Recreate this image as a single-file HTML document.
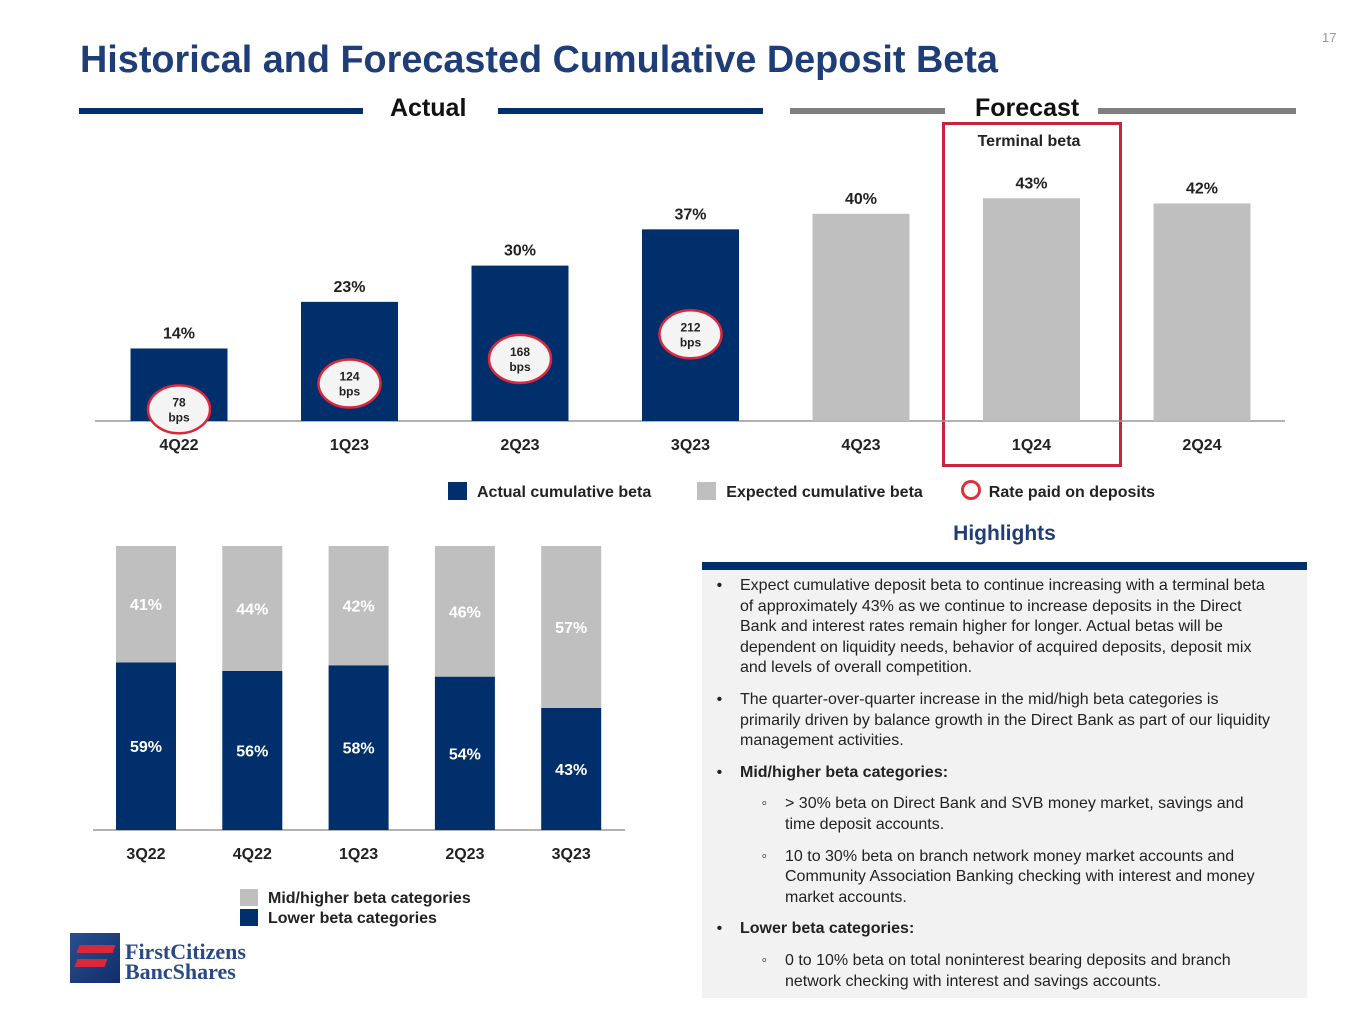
<!DOCTYPE html>
<html><head><meta charset="utf-8"><style>
body{margin:0;width:1365px;height:1024px;background:#fff;font-family:"Liberation Sans",Arial,sans-serif;position:relative;overflow:hidden}
.a{position:absolute}
.hl{font-size:16px;color:#222;line-height:20.6px}
.hl li{margin-bottom:11px}
</style></head><body>
<div class="a" style="left:1322px;top:30px;font-size:13px;color:#999">17</div>
<div class="a" style="left:80px;top:39px;font-size:37.8px;font-weight:bold;color:#1f3e78;white-space:nowrap">Historical and Forecasted Cumulative Deposit Beta</div>
<div class="a" style="left:79px;top:108px;width:284px;height:6px;background:#002f6c"></div>
<div class="a" style="left:390px;top:94px;font-size:25px;font-weight:bold;color:#111">Actual</div>
<div class="a" style="left:498px;top:108px;width:265px;height:6px;background:#002f6c"></div>
<div class="a" style="left:790px;top:108px;width:155px;height:6px;background:#7f7f7f"></div>
<div class="a" style="left:975px;top:94px;font-size:25px;font-weight:bold;color:#111">Forecast</div>
<div class="a" style="left:1098px;top:108px;width:198px;height:6px;background:#7f7f7f"></div>
<div class="a" style="left:942px;top:122px;width:174px;height:339px;border:3px solid #c8243a"></div>
<div class="a" style="left:942px;top:133px;width:174px;text-align:center;font-size:16px;font-weight:bold;color:#222">Terminal beta</div>
<svg class="a" id="topc" style="left:0;top:0" width="1365" height="520"></svg>
<div class="a" style="left:448px;top:480px;font-size:16px;font-weight:bold;color:#222;white-space:nowrap">
<span style="display:inline-block;width:19px;height:18px;background:#002f6c;vertical-align:-3px"></span><span style="margin:0 46px 0 10px">Actual cumulative beta</span><span style="display:inline-block;width:19px;height:18px;background:#bfbfbf;vertical-align:-3px"></span><span style="margin:0 38px 0 10px">Expected cumulative beta</span><span style="display:inline-block;width:14px;height:14px;border:3px solid #e0313b;border-radius:50%;vertical-align:-3px"></span><span style="margin-left:8px">Rate paid on deposits</span></div>
<svg class="a" id="botc" style="left:0;top:520px" width="700" height="350"></svg>
<div class="a" style="left:240px;top:889px;font-size:16px;font-weight:bold;color:#222;line-height:20px">
<div><span style="display:inline-block;width:18px;height:17px;background:#bfbfbf;vertical-align:-3px;margin-right:10px"></span>Mid/higher beta categories</div>
<div><span style="display:inline-block;width:18px;height:17px;background:#002f6c;vertical-align:-3px;margin-right:10px"></span>Lower beta categories</div></div>
<div class="a" style="left:70px;top:933px;width:50px;height:50px;background:linear-gradient(135deg,#2a4f8f,#0f2e6b)"><div style="position:absolute;left:8px;top:12px;width:36px;height:8px;background:#d9283a;transform:skewX(-20deg)"></div><div style="position:absolute;left:6px;top:26px;width:30px;height:8px;background:#d9283a;transform:skewX(-20deg)"></div></div>
<div class="a" style="left:125px;top:942px;font-family:'Liberation Serif',serif;font-size:22px;line-height:20px;color:#2a4a86;font-weight:bold">FirstCitizens<br>BancShares</div>
<div class="a" style="left:702px;top:522px;width:605px;text-align:center;font-size:21px;font-weight:bold;color:#1f3e78">Highlights</div>
<div class="a" style="left:702px;top:562px;width:605px;height:8px;background:#002f6c"></div>
<div class="a" style="left:702px;top:570px;width:605px;height:428px;background:#f2f2f2"></div>
<div class="a hl" style="left:715px;top:576px;width:557px">
<ul style="margin:0;padding-left:25px;list-style:'•    '">
<li>Expect cumulative deposit beta to continue increasing with a terminal beta of approximately 43% as we continue to increase deposits in the Direct Bank and interest rates remain higher for longer. Actual betas will be dependent on liquidity needs, behavior of acquired deposits, deposit mix and levels of overall competition.</li>
<li>The quarter-over-quarter increase in the mid/high beta categories is primarily driven by balance growth in the Direct Bank as part of our liquidity management activities.</li>
<li><b>Mid/higher beta categories:</b>
<ul style="padding-left:45px;list-style:'◦    ';margin-top:11px"><li>&gt; 30% beta on Direct Bank and SVB money market, savings and time deposit accounts.</li><li>10 to 30% beta on branch network money market accounts and Community Association Banking checking with interest and money market accounts.</li></ul></li>
<li><b>Lower beta categories:</b>
<ul style="padding-left:45px;list-style:'◦    ';margin-top:11px"><li>0 to 10% beta on total noninterest bearing deposits and branch network checking with interest and savings accounts.</li></ul></li>
</ul></div>
<script>
const topCats=['4Q22','1Q23','2Q23','3Q23','4Q23','1Q24','2Q24'];
const topVals=[14,23,30,37,40,43,42];
const topActual=[true,true,true,true,false,false,false];
const bpsVals=[78,124,168,212];
const botCats=['3Q22','4Q22','1Q23','2Q23','3Q23'];
const lowerVals=[59,56,58,54,43];
const upperVals=[41,44,42,46,57];
const NS='http://www.w3.org/2000/svg';
function mk(p,t,a){const e=document.createElementNS(NS,t);for(const k in a)e.setAttribute(k,a[k]);p.appendChild(e);return e;}
const topSvg=document.getElementById('topc');
const tx=i=>179+i*170.5, ty=v=>421-v*5.18, by=b=>453-b*0.56;
let ax=mk(topSvg,'line',{x1:95,x2:1285,y1:421,y2:421,stroke:'#999','stroke-width':1.5});


topVals.forEach((v,i)=>{
 const r=mk(topSvg,'rect',{x:tx(i)-48.5,y:ty(v),width:97,height:v*5.18,fill:topActual[i]?'#002f6c':'#bfbfbf'});
 
 
 const l=mk(topSvg,'text',{x:tx(i),y:ty(v)-10,'text-anchor':'middle','font-size':16,'font-weight':'bold',fill:'#222'});l.textContent=v+'%';
 
 
 const c=mk(topSvg,'text',{x:tx(i),y:450,'text-anchor':'middle','font-size':16,'font-weight':'bold',fill:'#222'});c.textContent=topCats[i];
 
 
});
bpsVals.forEach((b,i)=>{
 const g=mk(topSvg,'g',{});
 
 
 mk(g,'ellipse',{cx:tx(i),cy:by(b),rx:31,ry:24,fill:'#f4f4f4',stroke:'#d9283a','stroke-width':2.5});
 const t1=mk(g,'text',{x:tx(i),y:by(b)-3,'text-anchor':'middle','font-size':12,'font-weight':'bold',fill:'#222'});t1.textContent=b;
 const t2=mk(g,'text',{x:tx(i),y:by(b)+12,'text-anchor':'middle','font-size':12,'font-weight':'bold',fill:'#222'});t2.textContent='bps';
});
const botSvg=document.getElementById('botc');
const bx=i=>146+i*106.3, bY=v=>310-v*2.84;
let ax2=mk(botSvg,'line',{x1:93,x2:625,y1:310,y2:310,stroke:'#999','stroke-width':1.5});


botCats.forEach((c,i)=>{
 const lo=lowerVals[i],up=upperVals[i];
 const r1=mk(botSvg,'rect',{x:bx(i)-30,y:bY(lo),width:60,height:lo*2.84,fill:'#002f6c'});
 
 
 const r2=mk(botSvg,'rect',{x:bx(i)-30,y:bY(lo+up),width:60,height:up*2.84,fill:'#bfbfbf'});
 
 
 const t1=mk(botSvg,'text',{x:bx(i),y:bY(lo/2)+6,'text-anchor':'middle','font-size':16,'font-weight':'bold',fill:'#fff'});t1.textContent=lo+'%';
 
 
 const t2=mk(botSvg,'text',{x:bx(i),y:bY(lo+up/2)+6,'text-anchor':'middle','font-size':16,'font-weight':'bold',fill:'#fff'});t2.textContent=up+'%';
 
 
 const t3=mk(botSvg,'text',{x:bx(i),y:339,'text-anchor':'middle','font-size':16,'font-weight':'bold',fill:'#222'});t3.textContent=c;
 
 
});
</script>
</body></html>
